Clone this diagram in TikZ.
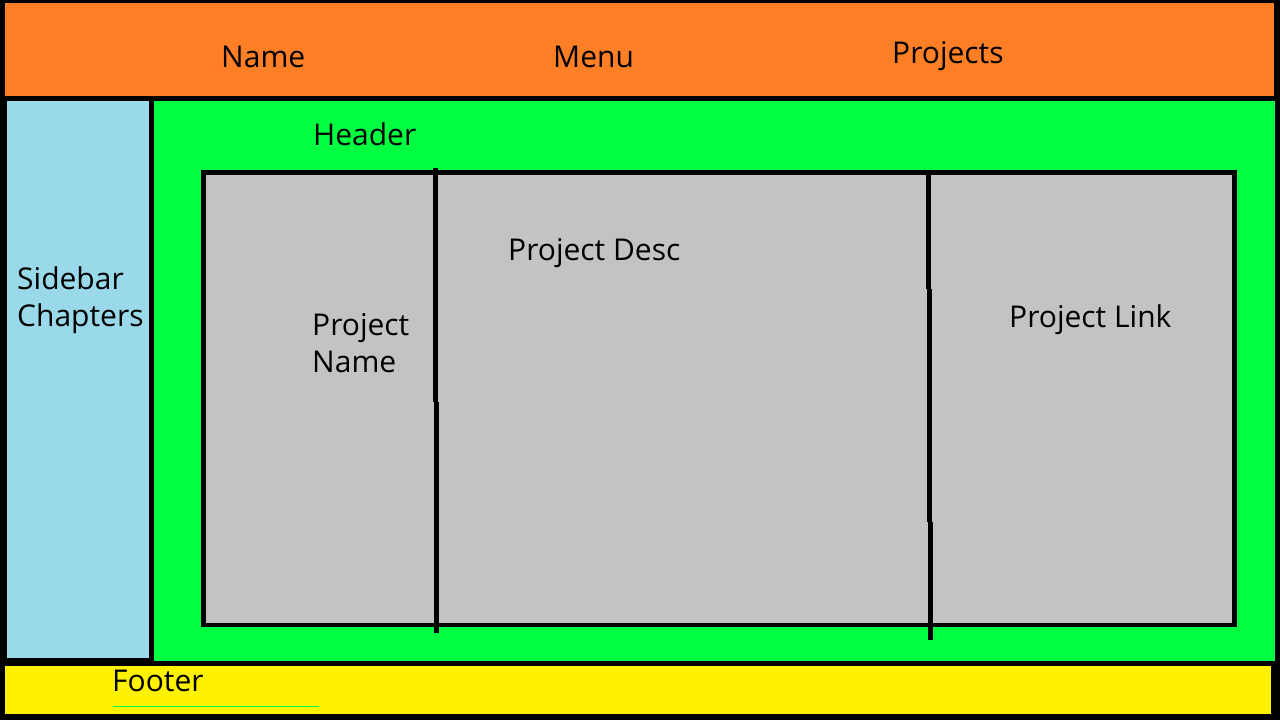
\documentclass[tikz,border=0pt]{standalone}
\usepackage{fontspec}
\setmainfont{Open Sans}
\definecolor{paintorange}{HTML}{FF7F27}
\definecolor{paintgreen}{HTML}{00FF40}
\definecolor{paintblue}{HTML}{99D9EA}
\definecolor{paintgray}{HTML}{C3C3C3}
\definecolor{paintyellow}{HTML}{FFF200}
\tikzset{
  lbl/.style={anchor=base west, inner sep=0pt, font=\fontsize{30}{36}\selectfont, text=black},
  divider/.style={line width=4.5pt, draw=black, line cap=butt},
}
\begin{document}
\begin{tikzpicture}[x=1pt,y=-1pt]
\useasboundingbox (0,0) rectangle (1280,720);
% black background
\fill[black] (0,0) rectangle (1280,720);
% top bar
\fill[paintorange] (5,3) rectangle (1274,96);
% sidebar
\fill[paintblue] (7,101) rectangle (149,658);
% main green
\fill[paintgreen] (154,101) rectangle (1275,661);
% footer
\fill[paintyellow] (5,666) rectangle (1271,714);
\draw[paintgreen, line width=1pt] (113,706.5) -- (319,706.5);
% project box
\fill[black] (201,170) rectangle (1237,627);
\fill[paintgray] (206,175) rectangle (1232,622.5);
% dividers (hand drawn, slightly offset segments)
\draw[divider] (435.3,168) -- (435.3,402);
\draw[divider] (436.5,402) -- (436.5,633);
\draw[divider] (928.5,175) -- (928.5,289);
\draw[divider] (929.3,289) -- (929.3,522);
\draw[divider] (930.5,522) -- (930.5,640);
% texts
\node[lbl] (tname) at (221,67) {Name};
\node[lbl] (tmenu) at (553,67) {Menu};
\node[lbl] (tprojects) at (892,63) {Projects};
\node[lbl] (theader) at (313,145) {Header};
\node[lbl] (tsidebar) at (17,289) {Sidebar};
\node[lbl] (tchapters) at (17,326) {Chapters};
\node[lbl] (tdesc) at (508,260) {Project Desc};
\node[lbl] (tpname1) at (312,335) {Project};
\node[lbl] (tpname2) at (312,372) {Name};
\node[lbl] (tlink) at (1009,327) {Project Link};
\node[lbl] (tfooter) at (112,691) {Footer};
\end{tikzpicture}
\end{document}
